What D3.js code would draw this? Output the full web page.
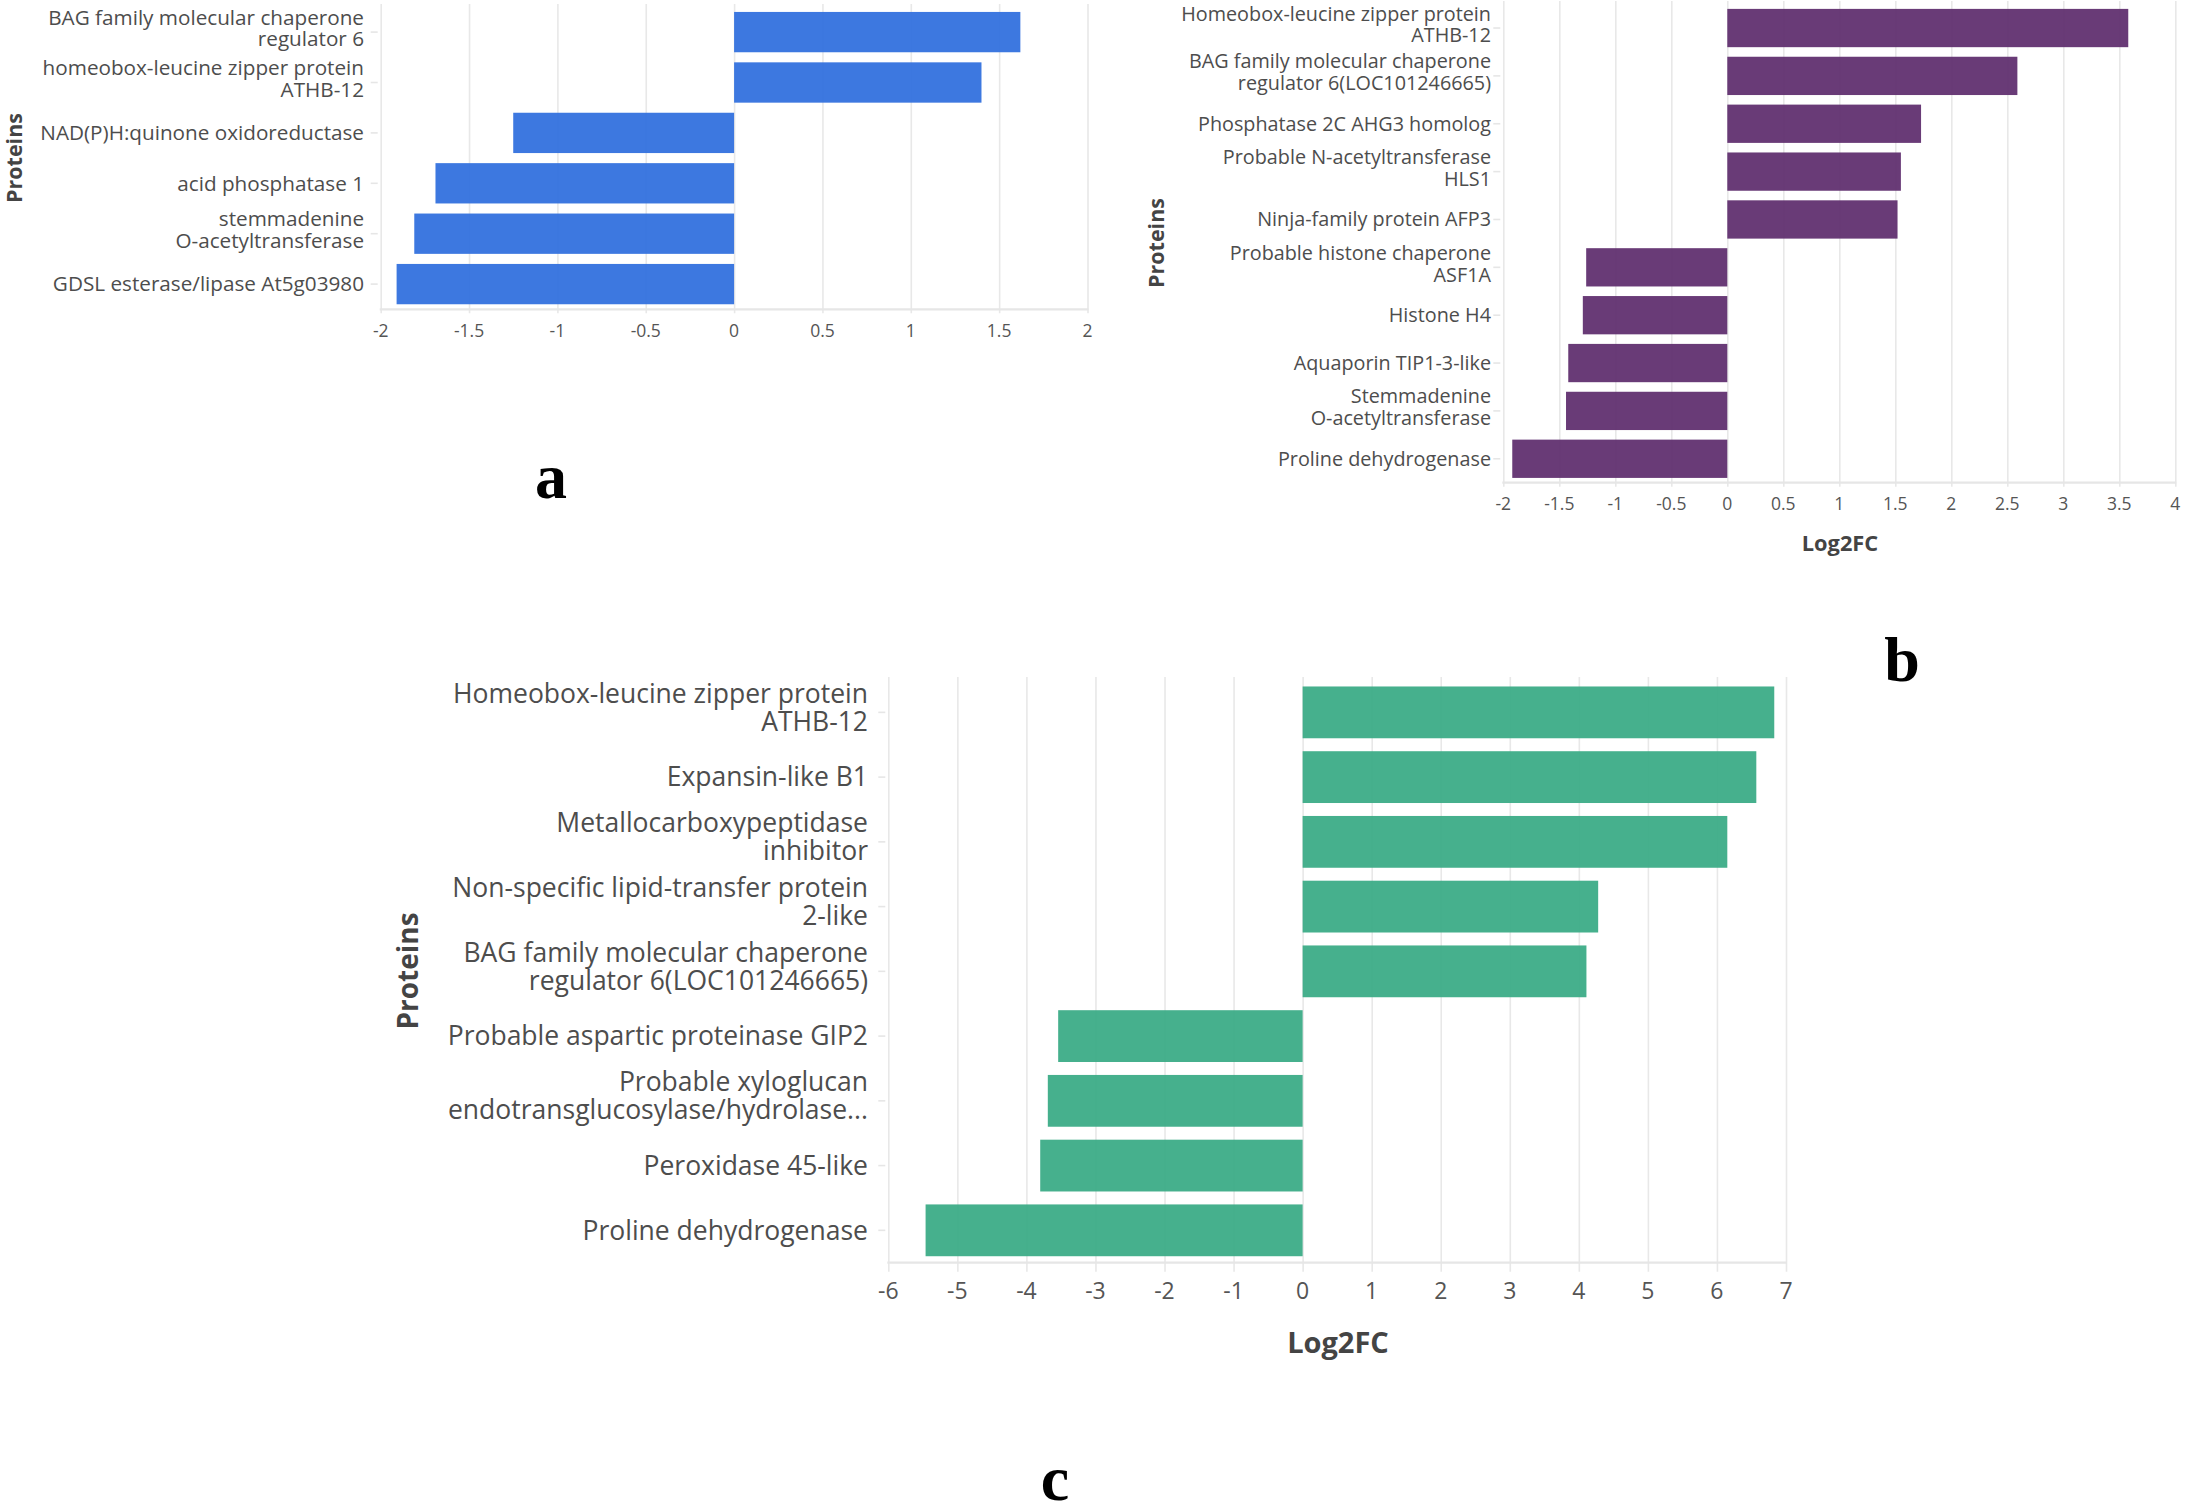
<!DOCTYPE html>
<html><head><meta charset="utf-8">
<script src="https://cdn.jsdelivr.net/npm/d3@7"></script>
<style>html,body{margin:0;padding:0;background:#fff;} svg{display:block;}</style>
</head><body>
<svg id="chart" width="2186" height="1505"></svg>
<script>
// ---------- DATA ----------
const catsA = ["BAG family molecular chaperone\nregulator 6", "homeobox-leucine zipper protein\nATHB-12", "NAD(P)H:quinone oxidoreductase", "acid phosphatase 1", "stemmadenine\nO-acetyltransferase", "GDSL esterase/lipase At5g03980"];
const valsA = [1.62, 1.40, -1.25, -1.69, -1.81, -1.91];
const ticksA = [-2, -1.5, -1, -0.5, 0, 0.5, 1, 1.5, 2];

const catsB = ["Homeobox-leucine zipper protein\nATHB-12", "BAG family molecular chaperone\nregulator 6(LOC101246665)", "Phosphatase 2C AHG3 homolog", "Probable N-acetyltransferase\nHLS1", "Ninja-family protein AFP3", "Probable histone chaperone\nASF1A", "Histone H4", "Aquaporin TIP1-3-like", "Stemmadenine\nO-acetyltransferase", "Proline dehydrogenase"];
const valsB = [3.58, 2.59, 1.73, 1.55, 1.52, -1.26, -1.29, -1.42, -1.44, -1.92];
const ticksB = [-2, -1.5, -1, -0.5, 0, 0.5, 1, 1.5, 2, 2.5, 3, 3.5, 4];

const catsC = ["Homeobox-leucine zipper protein\nATHB-12", "Expansin-like B1", "Metallocarboxypeptidase\ninhibitor", "Non-specific lipid-transfer protein\n2-like", "BAG family molecular chaperone\nregulator 6(LOC101246665)", "Probable aspartic proteinase GIP2", "Probable xyloglucan\nendotransglucosylase/hydrolase...", "Peroxidase 45-like", "Proline dehydrogenase"];
const valsC = [6.83, 6.57, 6.15, 4.28, 4.11, -3.54, -3.69, -3.80, -5.46];
const ticksC = [-6, -5, -4, -3, -2, -1, 0, 1, 2, 3, 4, 5, 6, 7];

const panelLetters = ["a", "b", "c"];
const xTitleText = "Log2FC";
const yTitleText = "Proteins";

// ---------- LAYOUT / STYLE ----------
const FONT = "'Open Sans', 'Noto Sans', sans-serif";
const panels = [
  {cats: catsA, vals: valsA, ticks: ticksA, letter: panelLetters[0], color: "#2e6ede",
   x0: 380.7, x1: 1087.5, y0: 6.9, y1: 309.3, labelX: 364, labelSize: 20.7, lh: 21.7,
   tickFont: 17.5, tickLabelY: 331, tickBelow: 4,
   yTitle: {x: 14, y: 158, size: 21.5}, xTitle: null, letterPos: {x: 551, y: 498}},
  {cats: catsB, vals: valsB, ticks: ticksB, letter: panelLetters[1], color: "#5e2c6d",
   x0: 1503.3, x1: 2175.3, y0: 4.1, y1: 482.7, labelX: 1491, labelSize: 19.8, lh: 21.7,
   tickFont: 17.5, tickLabelY: 504, tickBelow: 4,
   yTitle: {x: 1156, y: 243, size: 21.5}, xTitle: {x: 1840, y: 543, size: 21.8}, letterPos: {x: 1902, y: 681}},
  {cats: catsC, vals: valsC, ticks: ticksC, letter: panelLetters[2], color: "#38aa84",
   x0: 888.3, x1: 1786, y0: 680, y1: 1262.7, labelX: 868, labelSize: 26.5, lh: 28,
   tickFont: 23, tickLabelY: 1291, tickBelow: 9,
   yTitle: {x: 408, y: 971, size: 28}, xTitle: {x: 1338, y: 1343, size: 29}, letterPos: {x: 1055, y: 1500}}
];

const svg = d3.select("#chart");
svg.append("rect").attr("width", 2186).attr("height", 1505).attr("fill", "#fff");

panels.forEach(p => {
  const g = svg.append("g");
  const x = d3.scaleLinear().domain([p.ticks[0], p.ticks[p.ticks.length - 1]]).range([p.x0, p.x1]);
  const y = d3.scaleBand().domain(p.cats).range([p.y0, p.y1]).paddingInner(0.2).paddingOuter(0.1);

  // gridlines
  const grid = g.append("g").attr("transform", `translate(0,${p.y1})`)
    .call(d3.axisBottom(x).tickValues(p.ticks).tickSize(-(p.y1 - p.y0 + 3)).tickSizeOuter(0).tickFormat(""));
  grid.select(".domain").remove();
  grid.selectAll(".tick line").attr("stroke", "#e8e8e8").attr("stroke-width", 1.6).attr("y1", p.tickBelow);

  // bottom axis line
  g.append("line").attr("x1", p.x0 - 1).attr("x2", p.x1 + 1).attr("y1", p.y1).attr("y2", p.y1)
    .attr("stroke", "#e6e6e6").attr("stroke-width", 2.2);

  // y tick stubs
  const yax = g.append("g").attr("transform", `translate(${p.x0 - 3},0)`)
    .call(d3.axisLeft(y).tickSize(7).tickSizeOuter(0).tickFormat(""));
  yax.select(".domain").remove();
  yax.selectAll(".tick line").attr("stroke", "#e6e6e6").attr("stroke-width", 1.6);

  // bars
  g.append("g").selectAll("rect").data(p.cats).join("rect")
    .attr("x", (d, i) => Math.min(x(0), x(p.vals[i])))
    .attr("width", (d, i) => Math.abs(x(p.vals[i]) - x(0)))
    .attr("y", d => y(d))
    .attr("height", y.bandwidth())
    .attr("fill", p.color).attr("fill-opacity", 0.93);

  // x tick labels
  g.append("g").selectAll("text").data(p.ticks).join("text")
    .attr("x", d => x(d)).attr("y", p.tickLabelY).attr("dy", "0.35em")
    .attr("text-anchor", "middle")
    .style("font-family", FONT).style("font-size", p.tickFont + "px").attr("fill", "#555")
    .text(d => String(d));

  // category labels
  const labs = g.append("g").selectAll("text").data(p.cats).join("text")
    .attr("text-anchor", "end")
    .style("font-family", FONT).style("font-size", p.labelSize + "px").attr("fill", "#4d4d4d");
  labs.each(function (d) {
    const lines = d.split("\n");
    const n = lines.length;
    const cy = y(d) + y.bandwidth() / 2;
    const off = n === 1 ? 0.35 : 0.17;
    d3.select(this).selectAll("tspan").data(lines).join("tspan")
      .attr("x", p.labelX)
      .attr("y", (l, i) => cy + (i - (n - 1) / 2) * p.lh + off * p.labelSize)
      .text(l => l);
  });

  // y title
  g.append("text").attr("transform", `translate(${p.yTitle.x},${p.yTitle.y}) rotate(-90)`)
    .attr("text-anchor", "middle").attr("dy", "0.35em")
    .style("font-family", FONT).style("font-size", p.yTitle.size + "px").style("font-weight", 700)
    .attr("fill", "#444").text(yTitleText);

  // x title
  if (p.xTitle) {
    g.append("text").attr("x", p.xTitle.x).attr("y", p.xTitle.y).attr("dy", "0.35em")
      .attr("text-anchor", "middle")
      .style("font-family", FONT).style("font-size", p.xTitle.size + "px").style("font-weight", 700)
      .attr("fill", "#444").text(xTitleText);
  }

  // panel letter
  g.append("text").attr("x", p.letterPos.x).attr("y", p.letterPos.y).attr("text-anchor", "middle")
    .style("font-family", "'Liberation Serif', 'Times New Roman', serif").style("font-size", "64px")
    .style("font-weight", 700).attr("fill", "#000").text(p.letter);
});
</script>
</body></html>
